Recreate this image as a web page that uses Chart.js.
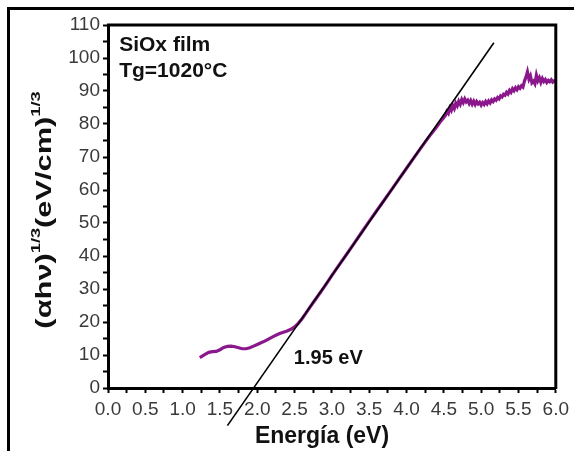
<!DOCTYPE html>
<html>
<head>
<meta charset="utf-8">
<script src="https://cdn.jsdelivr.net/npm/chart.js@4"></script>
<style>
  html, body { margin: 0; padding: 0; background: #fff; }
  #wrap { width: 574px; height: 451px; position: relative; }
</style>
</head>
<body>
<div id="wrap"><canvas id="chart" width="574" height="451"></canvas></div>
<script>
// measured spectrum: photon energy (eV) vs (alpha h nu)^(1/3)
const energy = [
  1.23, 1.30, 1.35, 1.40, 1.45, 1.50, 1.55, 1.60, 1.65, 1.70, 1.75, 1.80, 1.85, 1.90, 1.95,
  2.00, 2.05, 2.10, 2.15, 2.20, 2.25, 2.30, 2.35, 2.40, 2.45, 2.50, 2.55, 2.60, 2.65, 2.70,
  2.75, 2.80, 2.85, 2.90, 2.95, 3.00, 3.10, 3.20, 3.30, 3.40, 3.50, 3.60, 3.70, 3.80, 3.90,
  4.00, 4.10, 4.20, 4.30, 4.40, 4.45, 4.50,
  4.52, 4.54, 4.56, 4.58, 4.60, 4.62, 4.64, 4.66, 4.68, 4.70, 4.72, 4.74, 4.76, 4.78, 4.80,
  4.82, 4.84, 4.86, 4.88, 4.90, 4.92, 4.94, 4.96, 4.98, 5.00, 5.02, 5.04, 5.06, 5.08, 5.10,
  5.12, 5.14, 5.16, 5.18, 5.20, 5.22, 5.24, 5.26, 5.28, 5.30, 5.32, 5.34, 5.36, 5.38, 5.40,
  5.42, 5.44, 5.46, 5.48, 5.50, 5.52, 5.54, 5.56, 5.58, 5.60, 5.62, 5.64, 5.66, 5.68, 5.70,
  5.72, 5.74, 5.76, 5.78, 5.80, 5.82, 5.84, 5.86, 5.88, 5.90, 5.92, 5.94, 5.96, 5.98, 6.00
];
const absorb = [
  9.2, 10.2, 10.8, 11.0, 11.1, 11.6, 12.3, 12.6, 12.7, 12.5, 12.2, 11.9, 11.9, 12.2, 12.7,
  13.2, 13.7, 14.2, 14.8, 15.4, 16.0, 16.5, 16.9, 17.3, 17.8, 18.5, 19.6, 21.0, 22.6, 24.3,
  25.9, 27.5, 29.1, 30.7, 32.4, 34.1, 37.4, 40.6, 43.9, 47.2, 50.5, 53.7, 56.9, 60.1, 63.4,
  66.6, 69.8, 73.0, 76.1, 79.0, 80.6, 82.0,
  82.6, 83.8, 83.2, 84.9, 84.1, 85.6, 84.7, 86.3, 85.5, 86.9, 86.0, 87.4, 86.5, 87.6, 86.7,
  87.2, 86.2, 87.1, 86.0, 86.9, 85.9, 86.8, 86.1, 86.6, 85.7, 86.5, 85.9, 86.8, 86.1, 87.0,
  86.4, 87.3, 86.8, 87.6, 87.2, 88.0, 87.6, 88.5, 88.2, 89.0, 88.7, 89.6, 89.1, 90.2, 89.6,
  90.7, 90.1, 91.0, 90.4, 91.3, 90.8, 91.6, 91.2, 93.0, 94.2, 95.8, 93.6, 94.6, 92.5, 93.0,
  92.2, 94.8, 93.1, 94.0, 92.6, 93.8, 92.9, 93.5, 92.6, 93.2, 92.8, 93.4, 92.7, 93.1, 92.8
];

// linear fit (Tauc extrapolation), end points
const fitX = [1.60, 5.17];
const fitY = [-11.4, 104.6];

// axis ticks
const xTicks = ['0.0', '0.5', '1.0', '1.5', '2.0', '2.5', '3.0', '3.5', '4.0', '4.5', '5.0', '5.5', '6.0'];
const yTicks = [0, 10, 20, 30, 40, 50, 60, 70, 80, 90, 100, 110];

const labelFont = '"Liberation Sans", Arial, sans-serif';

const decor = {
  id: 'decor',
  beforeDraw(chart) {
    const ctx = chart.ctx;
    ctx.save();
    ctx.fillStyle = '#fff';
    ctx.fillRect(0, 0, chart.width, chart.height);
    ctx.restore();
  },
  afterDraw(chart) {
    const { ctx, chartArea: a, scales } = chart;
    const x = scales.x, y = scales.y;
    ctx.save();
    // top and right frame lines
    ctx.strokeStyle = '#000';
    ctx.lineWidth = 3;
    ctx.beginPath();
    ctx.moveTo(a.left - 1, a.top);
    ctx.lineTo(a.right, a.top);
    ctx.lineTo(a.right, a.bottom + 1);
    ctx.stroke();

    // outer figure border (left and top)
    ctx.fillStyle = '#000';
    ctx.fillRect(7, 7, 3, chart.height - 7);
    ctx.fillRect(7, 7, chart.width - 7, 3);

    // annotations
    ctx.fillStyle = '#111';
    ctx.textBaseline = 'alphabetic';
    ctx.textAlign = 'left';
    ctx.font = 'bold 21px ' + labelFont;
    ctx.fillText('SiOx film', x.getPixelForValue(0.15), y.getPixelForValue(102));
    ctx.fillText('Tg=1020°C', x.getPixelForValue(0.15), y.getPixelForValue(94.2));
    ctx.font = 'bold 20px ' + labelFont;
    ctx.fillText('1.95 eV', x.getPixelForValue(2.49), y.getPixelForValue(7.3));

    // x axis title
    ctx.font = 'bold 23px ' + labelFont;
    ctx.textAlign = 'center';
    ctx.fillText('Energía (eV)', 322, 443);

    // y axis title with superscripts, rotated
    const parts = [
      { t: '(\u03b1h\u03bd)', sup: false },
      { t: '1/3', sup: true },
      { t: '(eV/cm)', sup: false },
      { t: '1/3', sup: true }
    ];
    const bigF = 'bold 22px ' + labelFont;
    const supF = 'bold 13px ' + labelFont;
    let total = 0;
    parts.forEach(p => {
      ctx.font = p.sup ? supF : bigF;
      p.w = ctx.measureText(p.t).width;
      total += p.w;
    });
    ctx.translate(51, 210);
    ctx.rotate(-Math.PI / 2);
    ctx.scale(1.4, 1);
    ctx.textAlign = 'left';
    let cx = -total / 2;
    parts.forEach(p => {
      ctx.font = p.sup ? supF : bigF;
      ctx.fillText(p.t, cx, p.sup ? -11 : 0);
      cx += p.w;
    });
    ctx.restore();
  }
};

const curve = energy.map((e, i) => ({ x: e, y: absorb[i] }));
const fitLine = fitX.map((e, i) => ({ x: e, y: fitY[i] }));

const tickStyle = {
  drawOnChartArea: false,
  drawTicks: true,
  tickLength: 5,
  tickWidth: 2,
  tickColor: '#000'
};

new Chart(document.getElementById('chart'), {
  type: 'line',
  data: {
    datasets: [
      {
        label: 'fit',
        data: fitLine,
        borderColor: '#000',
        borderWidth: 1.6,
        pointRadius: 0,
        clip: false,
        tension: 0
      },
      {
        label: 'SiOx',
        data: curve,
        borderColor: '#8a178c',
        borderWidth: 3.2,
        pointRadius: 0,
        tension: 0
      }
    ]
  },
  options: {
    responsive: false,
    animation: false,
    events: [],
    layout: { padding: { top: 25, right: 13, left: 0, bottom: 0 } },
    plugins: { legend: { display: false }, tooltip: { enabled: false } },
    scales: {
      x: {
        type: 'linear',
        min: 0,
        max: 6,
        afterFit: s => { s.height = 63; },
        afterBuildTicks: s => {
          const t = [];
          for (let i = 0; i <= 24; i++) t.push({ value: i * 0.25 });
          s.ticks = t;
        },
        ticks: {
          autoSkip: false,
          maxRotation: 0,
          minRotation: 0,
          padding: 5,
          color: '#3a3a3a',
          font: { family: labelFont, size: 19 },
          callback: (v, i) => (i % 2 === 0 ? xTicks[i / 2] : '')
        },
        grid: tickStyle,
        border: { color: '#000', width: 3 }
      },
      y: {
        type: 'linear',
        min: 0,
        max: 110,
        afterFit: s => { s.width = 108; },
        afterBuildTicks: s => {
          const t = [];
          for (let i = 0; i <= 22; i++) t.push({ value: i * 5 });
          s.ticks = t;
        },
        ticks: {
          autoSkip: false,
          padding: 3,
          color: '#3a3a3a',
          font: { family: labelFont, size: 19 },
          callback: (v, i) => (i % 2 === 0 ? String(yTicks[i / 2]) : '')
        },
        grid: tickStyle,
        border: { color: '#000', width: 3 }
      }
    }
  },
  plugins: [decor]
});
</script>
</body>
</html>
